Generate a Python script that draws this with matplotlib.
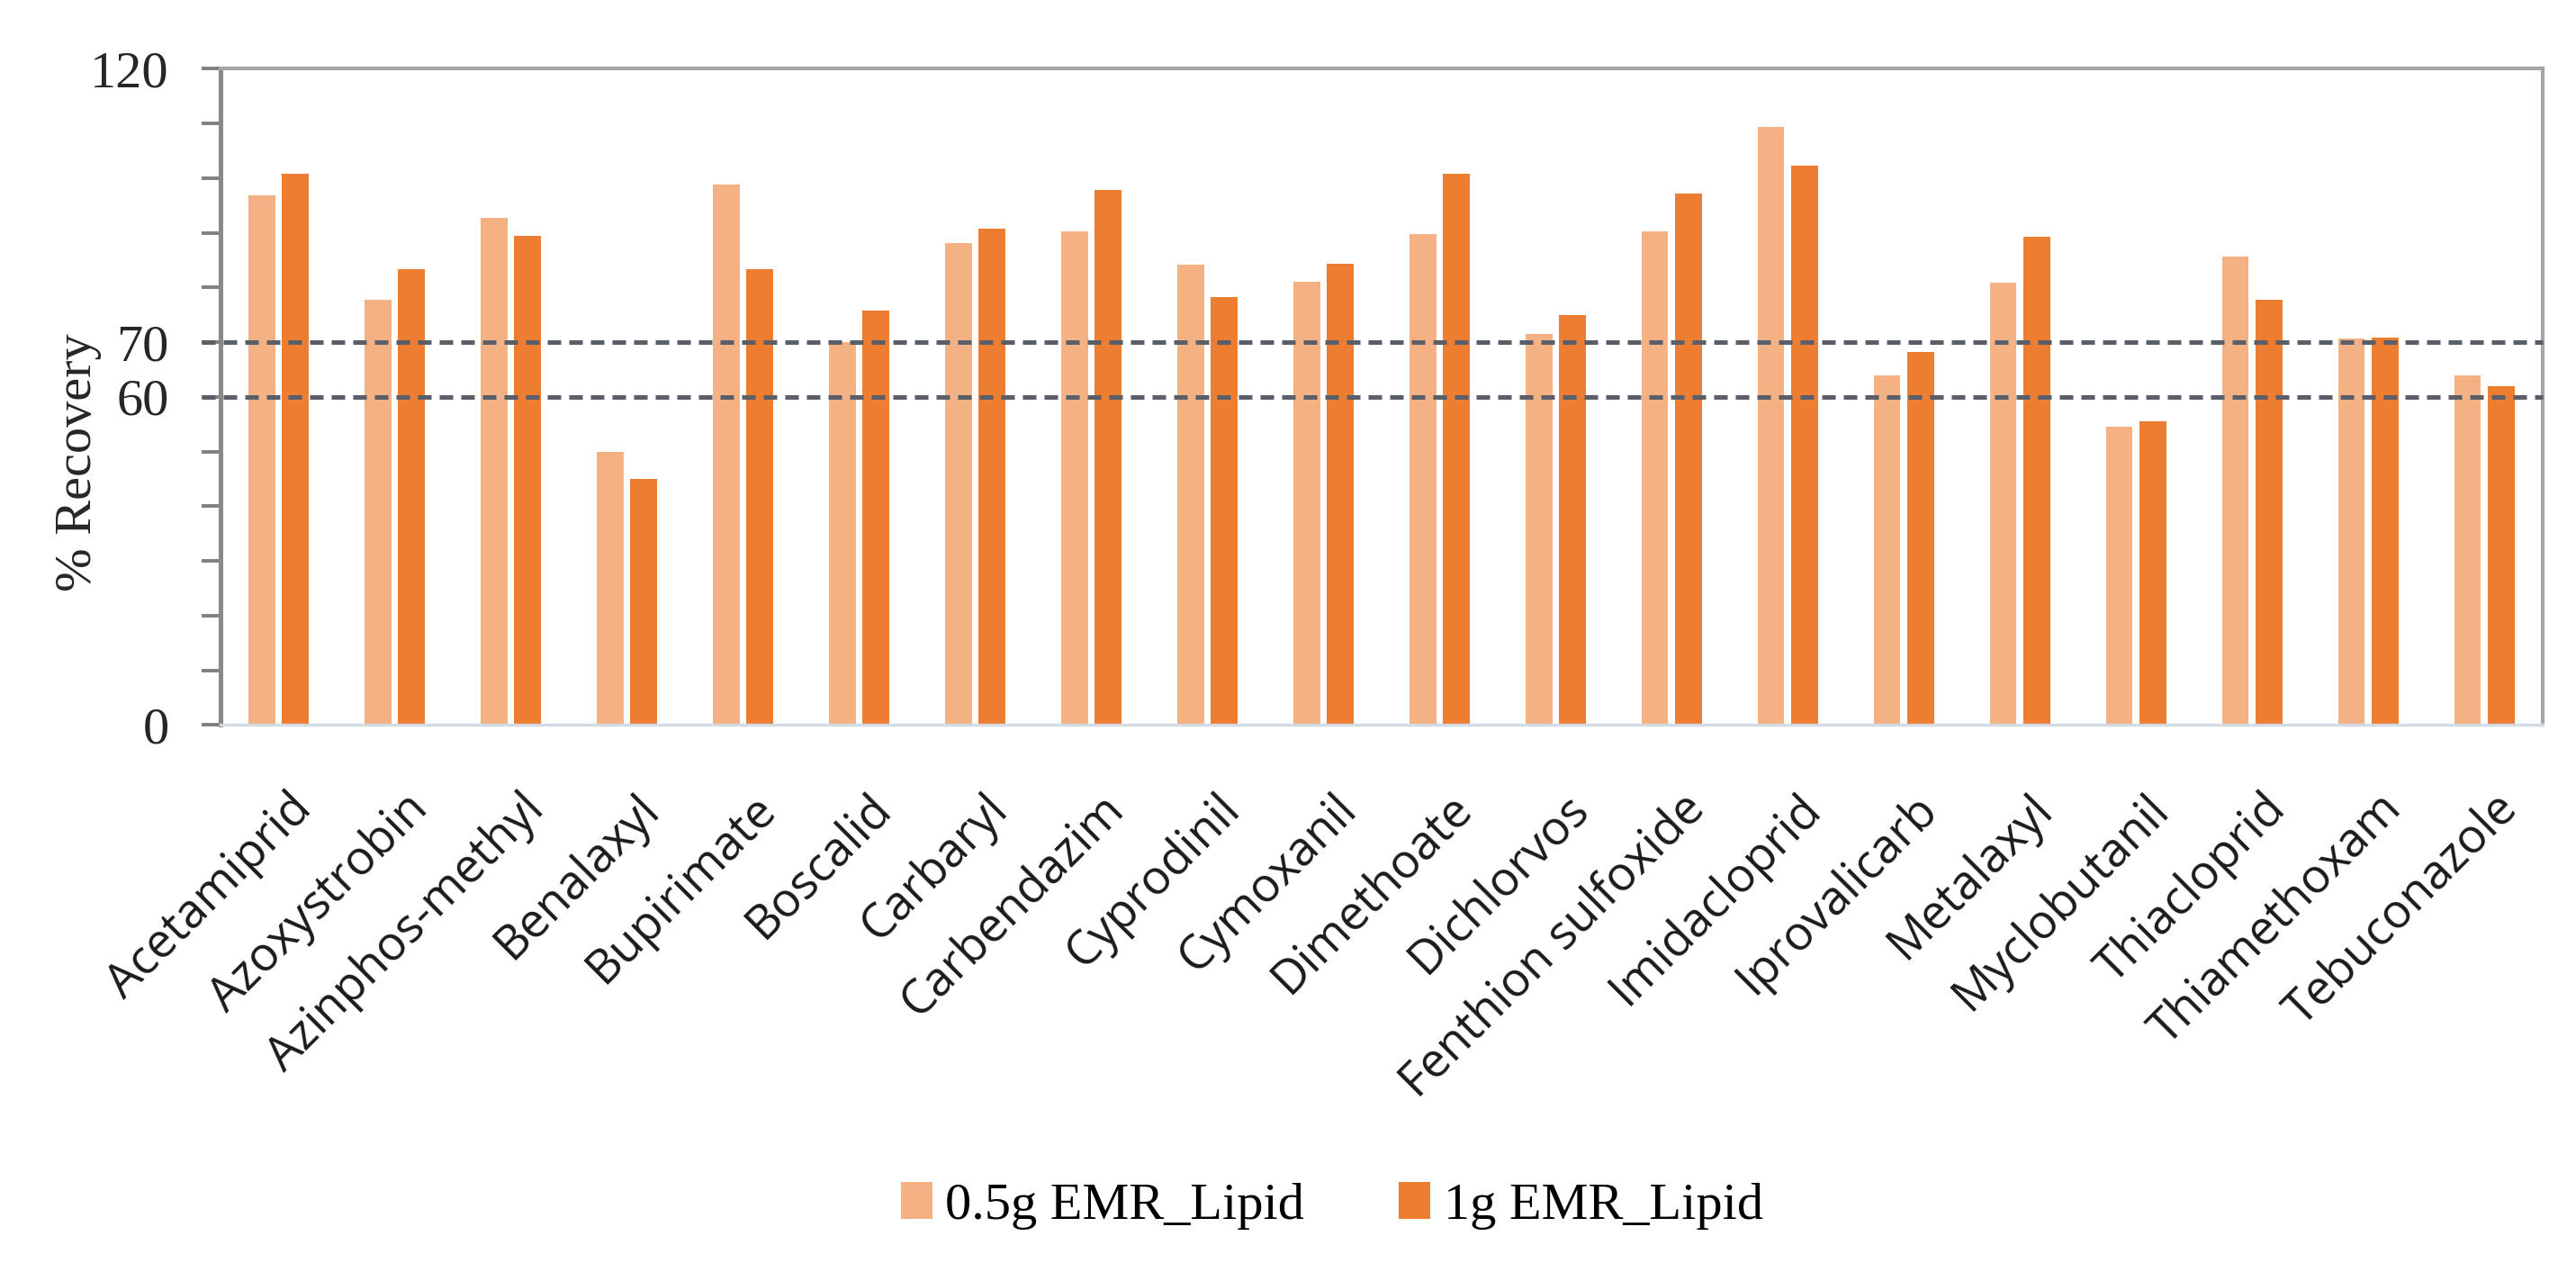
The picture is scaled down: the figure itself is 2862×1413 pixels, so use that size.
import matplotlib.pyplot as plt
import matplotlib.transforms as mtransforms
import numpy as np

compounds = ['Acetamiprid', 'Azoxystrobin', 'Azinphos-methyl', 'Benalaxyl', 'Bupirimate',
             'Boscalid', 'Carbaryl', 'Carbendazim', 'Cyprodinil', 'Cymoxanil',
             'Dimethoate', 'Dichlorvos', 'Fenthion sulfoxide', 'Imidacloprid', 'Iprovalicarb',
             'Metalaxyl', 'Myclobutanil', 'Thiacloprid', 'Thiamethoxam', 'Tebuconazole']
emr_05g = [96.8, 77.7, 92.8, 50.0, 98.8, 70.0, 88.1, 90.2, 84.2, 81.1,
           89.7, 71.5, 90.2, 109.3, 64.0, 80.9, 54.6, 85.6, 70.7, 64.0]
emr_1g = [100.8, 83.4, 89.4, 45.0, 83.4, 75.7, 90.8, 97.9, 78.2, 84.3,
          100.8, 75.0, 97.2, 102.3, 68.2, 89.3, 55.6, 77.8, 70.9, 62.0]
limits = [70, 60]
ytick_vals = list(range(0, 121, 10))
ytick_text = ['0', '', '', '', '', '', '60', '70', '', '', '', '', '120']
series_names = ['0.5g EMR_Lipid', '1g EMR_Lipid']

serif = ['Liberation Serif', 'DejaVu Serif']
sans = ['Open Sans', 'DejaVu Sans']

fig = plt.figure(figsize=(14.31, 7.065), dpi=200)
ax = fig.add_axes([0.0856, 0.430, 0.9014, 0.516])

x = np.arange(len(compounds))
w = 0.23
ax.bar(x - 0.145, emr_05g, w, color='#F4B183', label=series_names[0], zorder=2)
ax.bar(x + 0.145, emr_1g, w, color='#ED7D31', label=series_names[1], zorder=2)

# 70 % / 60 % limits, drawn from the tick marks to the right border
for v in limits:
    ax.axhline(v, xmin=-0.008, xmax=1, color='#595e68', lw=1.8, dashes=(3.0, 1.8),
               zorder=3, clip_on=False)

ax.set_xlim(-0.5, len(compounds) - 0.5)
ax.set_ylim(0, 120)

ax.set_yticks(ytick_vals)
ax.set_yticklabels(ytick_text, family=serif, fontsize=21, color='#262626')
ax.tick_params(axis='y', direction='out', length=7.6, width=1.4, color='#808080', pad=13)

ax.set_xticks(x)
ax.set_xticklabels(compounds, family=sans, fontsize=19, rotation=45, ha='right',
                   va='top', rotation_mode='anchor', color='#1a1a1a')
ax.tick_params(axis='x', length=0, pad=24)
offset = mtransforms.ScaledTranslation(10 / 200, 0, fig.dpi_scale_trans)
for lab in ax.get_xticklabels():
    lab.set_transform(lab.get_transform() + offset)

ax.set_ylabel('% Recovery', family=serif, fontsize=21, color='#262626')
ax.yaxis.set_label_coords(-0.051, 0.40)

ax.spines['left'].set_color('#898989')
ax.spines['left'].set_linewidth(1.8)
ax.spines['top'].set_color('#a6a6a6')
ax.spines['top'].set_linewidth(1.5)
ax.spines['right'].set_color('#a6a6a6')
ax.spines['right'].set_linewidth(1.5)
ax.spines['bottom'].set_color('#d5dbe3')
ax.spines['bottom'].set_linewidth(1.2)

fig.legend(loc='center', bbox_to_anchor=(0.517, 0.052), ncol=2, frameon=False,
           prop={'family': serif, 'size': 21}, handlelength=0.6, handleheight=0.7,
           handletextpad=0.25, columnspacing=1.8)

plt.savefig('out.png', dpi=200)
